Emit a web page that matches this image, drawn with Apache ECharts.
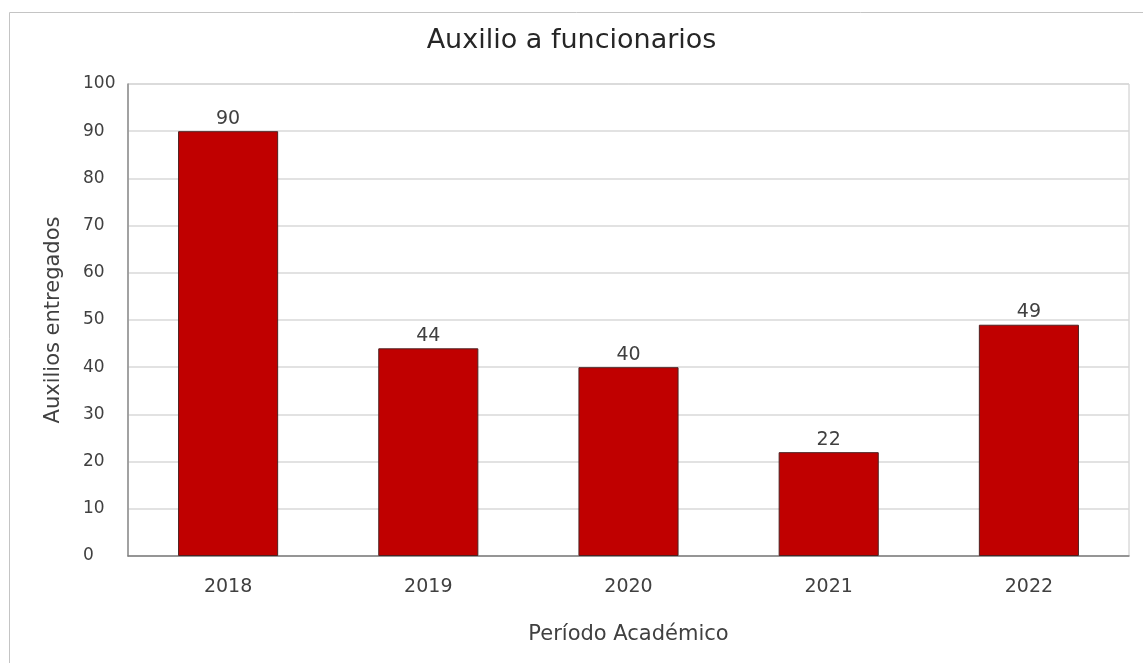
<!DOCTYPE html>
<html>
<head>
<meta charset="utf-8">
<script src="https://cdn.jsdelivr.net/npm/echarts@6/dist/echarts.min.js"></script>
<style>
html, body { margin: 0; padding: 0; background: #fff; }
#chart { width: 1143px; height: 663px; }
</style>
</head>
<body>
<div id="chart"></div>
<script>
// datos
var periodos = ['2018', '2019', '2020', '2021', '2022'];
var auxilios = [90, 44, 40, 22, 49];
var yTicks = { min: 0, max: 100, step: 10 };

var textColor = '#404040';
var fontFam = '"DejaVu Sans", "Noto Sans", sans-serif';

var chart = echarts.init(document.getElementById('chart'));
var option = {
    animation: false,
    backgroundColor: '#fff',
    textStyle: { fontFamily: fontFam },
    // marco exterior (solo arriba e izquierda visibles)
    graphic: [{
        type: 'rect',
        shape: { x: 9.5, y: 12.5, width: 1200, height: 700 },
        style: { fill: 'none', stroke: '#c4c4c4', lineWidth: 1 },
        silent: true
    }],
    title: {
        text: 'Auxilio a funcionarios',
        left: 'center',
        top: 22,
        textStyle: { fontSize: 27, fontWeight: 'normal', color: '#262626', fontFamily: fontFam }
    },
    grid: {
        left: 128,
        right: 14,
        top: 84,
        bottom: 107,
        show: true,
        borderColor: '#c8c8c8',
        borderWidth: 1
    },
    xAxis: {
        type: 'category',
        data: periodos,
        name: 'Período Académico',
        nameLocation: 'middle',
        nameGap: 68,
        nameTextStyle: { fontSize: 21, color: textColor },
        axisTick: { show: false },
        axisLine: { lineStyle: { color: '#7f7f7f', width: 1.5 } },
        axisLabel: { margin: 22, fontSize: 19, color: textColor }
    },
    yAxis: {
        type: 'value',
        min: yTicks.min,
        max: yTicks.max,
        interval: yTicks.step,
        name: 'Auxilios entregados',
        nameLocation: 'middle',
        nameGap: 64,
        nameTextStyle: { fontSize: 21, color: textColor },
        axisLine: { show: true, lineStyle: { color: '#8c8c8c', width: 1.5 } },
        axisTick: { show: false },
        axisLabel: { margin: 45, align: 'left', fontSize: 17, color: textColor },
        splitLine: { lineStyle: { color: '#d9d9d9', width: 1.5 } }
    },
    series: [{
        name: 'Auxilios',
        type: 'bar',
        data: auxilios,
        barWidth: '50%',
        itemStyle: {
            color: '#c00000',
            borderColor: '#4d2020',
            borderWidth: 1
        },
        label: {
            show: true,
            position: 'top',
            distance: 3,
            fontSize: 19,
            color: textColor
        }
    }]
};
chart.setOption(option);
</script>
</body>
</html>
